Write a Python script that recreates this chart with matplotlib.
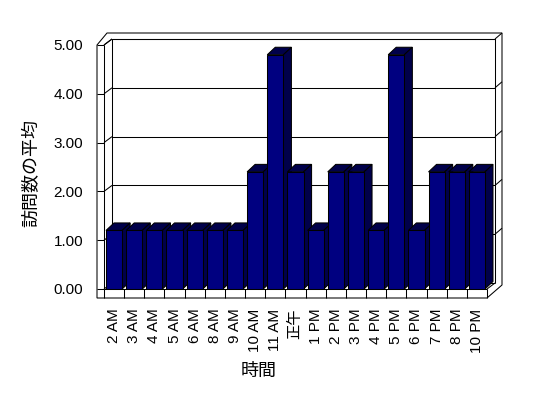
import matplotlib
matplotlib.use('Agg')
import matplotlib.pyplot as plt
from matplotlib.patches import Polygon

plt.rcParams['font.family'] = ['Liberation Sans', 'Noto Sans CJK JP']

# data
hours = ['2 AM', '3 AM', '4 AM', '5 AM', '6 AM', '8 AM', '9 AM', '10 AM', '11 AM', '正午',
         '1 PM', '2 PM', '3 PM', '4 PM', '5 PM', '6 PM', '7 PM', '8 PM', '10 PM']
avg_visits = [1.2, 1.2, 1.2, 1.2, 1.2, 1.2, 1.2, 2.4, 4.8, 2.4,
              1.2, 2.4, 2.4, 1.2, 4.8, 1.2, 2.4, 2.4, 2.4]
y_ticks = [0, 1, 2, 3, 4, 5]

W, H = 548, 398
fig = plt.figure(figsize=(W / 100, H / 100), dpi=100)
# front plane of the pseudo 3D box
ax = fig.add_axes([104 / W, (H - 289) / H, 383 / W, 244 / H])
n = len(hours)
L, R, TOP = -0.5, n - 0.5, y_ticks[-1]
ax.set_xlim(L, R)
ax.set_ylim(0, TOP)

# pixel sizes -> data units
sx = 383 / n
sy = 244 / TOP
DX, DY = 8 / sx, 6 / sy          # depth of the box
TW, TF = 7 / sx, 9 / sy          # left wall / floor thickness
TR, TT = 7 / sx, 6 / sy          # back wall slab, right / top
BDX, BDY = 8 / sx, 7.5 / sy      # depth of the bars
LW = 0.75


def line(xs, ys, z=2):
    ax.plot(xs, ys, color='black', lw=LW, clip_on=False, zorder=z,
            solid_capstyle='butt')


# outer outline of walls and floor
outline = [(L - TW, -TF), (L - TW, TOP), (L + 3 / sx, TOP + DY + TT),
           (R + DX + TR, TOP + DY + TT), (R + DX + TR, 4 / sy), (R, -TF)]
ax.add_patch(Polygon(outline, closed=True, fc='white', ec='black', lw=LW,
                     clip_on=False, zorder=1))

# left wall front face
line([L, L], [0, TOP])
line([L, L + DX], [TOP, TOP + DY])
# back wall
line([L + DX, L + DX, R + DX, R + DX], [DY, TOP + DY, TOP + DY, DY])
# floor
line([L, R], [0, 0])
line([L + DX, R + DX], [DY, DY])
line([L, L + DX], [0, DY])
line([R, R + DX], [0, DY])
for k in range(n + 1):
    line([L + k, L + k], [-TF, 0])

# ticks and gridlines
for v in y_ticks:
    line([L - TW, L], [v, v])
    if v > 0:
        line([L, L + DX], [v, v + DY])
        line([L + DX, R + DX], [v + DY, v + DY])
        line([R + DX, R + DX + TR], [v + DY, v + DY + TT])

# bars
bars = ax.bar(range(n), avg_visits, width=0.8, color='#000080',
              edgecolor='black', lw=LW, zorder=3)
for b in bars:
    x0, x1, h = b.get_x(), b.get_x() + b.get_width(), b.get_height()
    top = [(x0, h), (x1, h), (x1 + BDX, h + BDY), (x0 + BDX, h + BDY)]
    side = [(x1, 0), (x1 + BDX, BDY), (x1 + BDX, h + BDY), (x1, h)]
    for pts in (top, side):
        ax.add_patch(Polygon(pts, closed=True, fc='#00004a', ec='black',
                             lw=LW, clip_on=False, zorder=2.5))

ax.set_xticks(range(n))
ax.set_xticklabels(hours, rotation=90, fontsize=11)
ax.set_yticks(y_ticks)
ax.set_yticklabels([f'{v:.2f}' for v in y_ticks], fontsize=11)
ax.tick_params(axis='x', length=0, pad=14)
ax.tick_params(axis='y', length=0, pad=15)
for s in ax.spines.values():
    s.set_visible(False)

ax.set_xlabel('時間', fontsize=13, family=['Noto Sans CJK JP'])
ax.xaxis.set_label_coords((259 - 104) / 383, (289 - 362) / 244)
ax.set_ylabel('訪問数の平均', fontsize=13, family=['Noto Sans CJK JP'])
ax.yaxis.set_label_coords((40 - 104) / 383, (289 - 173) / 244)

fig.savefig('out.png', dpi=100)
